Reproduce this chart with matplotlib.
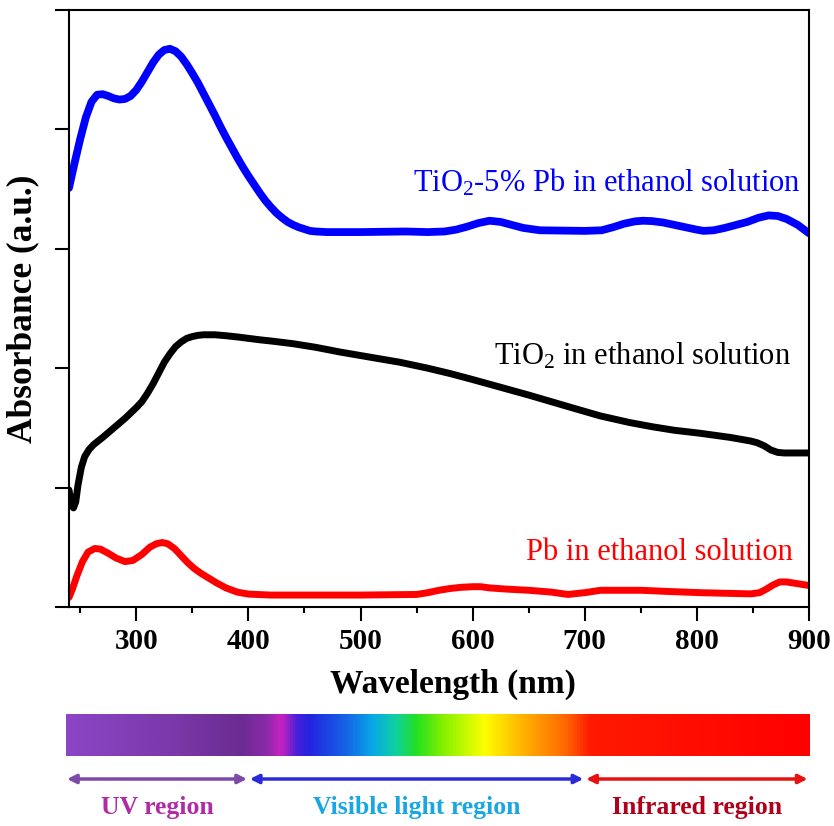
import numpy as np
import matplotlib
matplotlib.use('Agg')
from matplotlib import pyplot as plt
from matplotlib.colors import LinearSegmentedColormap
from matplotlib.ticker import MultipleLocator

plt.rcParams['font.family'] = ['Liberation Serif', 'DejaVu Serif']
plt.rcParams['mathtext.fontset'] = 'custom'
plt.rcParams['mathtext.rm'] = 'Liberation Serif'
plt.rcParams['mathtext.it'] = 'Liberation Serif:italic'
plt.rcParams['mathtext.bf'] = 'Liberation Serif:bold'

# TiO2-5% Pb in ethanol (blue)
wl_mix = [240, 245, 250, 255, 260, 265, 270, 275, 280, 285, 290, 295, 300, 305, 310,
          315, 320, 325, 330, 335, 340, 345, 350, 355, 360, 365, 370, 375, 380, 385,
          390, 395, 400, 405, 410, 415, 420, 425, 430, 435, 440, 445, 450, 455, 460,
          470, 500, 540, 560, 575, 585, 595, 605, 615, 625, 635, 645, 660, 700, 715,
          725, 735, 745, 752, 760, 770, 780, 790, 800, 806, 815, 825, 835, 845, 855,
          864, 872, 880, 890, 900]
abs_mix = [3.51, 3.72, 3.92, 4.10, 4.23, 4.29, 4.295, 4.28, 4.26, 4.25, 4.255, 4.28, 4.33,
           4.40, 4.48, 4.56, 4.625, 4.665, 4.675, 4.655, 4.61, 4.545, 4.47, 4.39, 4.30,
           4.21, 4.12, 4.025, 3.935, 3.85, 3.765, 3.685, 3.61, 3.54, 3.47, 3.405, 3.35,
           3.30, 3.26, 3.225, 3.20, 3.18, 3.165, 3.15, 3.145, 3.14, 3.14, 3.145, 3.14,
           3.145, 3.16, 3.185, 3.215, 3.235, 3.225, 3.20, 3.175, 3.155, 3.15, 3.155, 3.18,
           3.21, 3.23, 3.235, 3.232, 3.22, 3.20, 3.18, 3.16, 3.15, 3.155, 3.175, 3.20,
           3.225, 3.26, 3.28, 3.275, 3.25, 3.20, 3.13]

# TiO2 in ethanol (black)
wl_tio2 = [240, 242, 244, 246, 248, 251, 254, 258, 262, 270, 280, 290, 300, 305, 310,
           315, 320, 325, 330, 335, 340, 345, 350, 355, 360, 370, 380, 390, 400, 410,
           420, 440, 460, 482, 510, 535, 560, 580, 600, 625, 650, 670, 690, 714, 740,
           760, 780, 803, 830, 848, 854, 860, 866, 872, 878, 900]
abs_tio2 = [0.98, 0.86, 0.83, 0.88, 1.02, 1.17, 1.26, 1.32, 1.36, 1.42, 1.50, 1.58, 1.67,
            1.72, 1.79, 1.87, 1.96, 2.05, 2.12, 2.18, 2.22, 2.25, 2.265, 2.275, 2.28,
            2.28, 2.272, 2.262, 2.25, 2.238, 2.228, 2.205, 2.175, 2.135, 2.09, 2.05, 2.00,
            1.955, 1.905, 1.84, 1.775, 1.72, 1.665, 1.60, 1.545, 1.51, 1.48, 1.455, 1.42,
            1.39, 1.375, 1.35, 1.315, 1.295, 1.29, 1.29]

# Pb in ethanol (red)
wl_pb = [240, 243, 247, 252, 257, 263, 268, 275, 282, 290, 297, 305, 312, 318, 323, 328,
         334, 340, 346, 352, 358, 365, 372, 380, 390, 400, 420, 500, 550, 560, 570, 580,
         590, 600, 607, 615, 630, 650, 670, 685, 700, 714, 750, 775, 803, 848, 856, 862,
         868, 874, 880, 890, 900]
abs_pb = [0.08, 0.15, 0.26, 0.38, 0.46, 0.49, 0.485, 0.45, 0.41, 0.38, 0.39, 0.44, 0.50,
          0.53, 0.54, 0.53, 0.49, 0.43, 0.37, 0.32, 0.28, 0.24, 0.20, 0.16, 0.125, 0.108,
          0.10, 0.10, 0.105, 0.12, 0.14, 0.155, 0.165, 0.17, 0.17, 0.16, 0.15, 0.14, 0.125,
          0.105, 0.12, 0.14, 0.14, 0.13, 0.12, 0.11, 0.12, 0.15, 0.185, 0.21, 0.21, 0.195,
          0.18]

curve_labels = ['TiO$_2$-5% Pb in ethanol solution', 'TiO$_2$ in ethanol solution',
                'Pb in ethanol solution']
label_pos = [(893, 3.48), (884, 2.03), (886, 0.39)]

# spectrum regions (nm)
region_names = ['UV region', 'Visible light region', 'Infrared region']
region_edges = [(237, 400), (400, 700), (700, 900)]

# colour stops of the spectrum bar (nm, colour)
spec_wl = [237, 321, 392, 415, 428, 442, 453, 487, 510, 531, 549, 572, 610, 644, 682, 705, 900]
spec_col = ['#8b45c6', '#7d3aad', '#6b2c92', '#8a2aa8', '#c822c0', '#4a20d8', '#2424e0',
            '#1466e6', '#08a8e8', '#10d0a0', '#22e022', '#80f000', '#ffff00', '#ffb400',
            '#ff6a00', '#ff1a00', '#ff0000']

W, H = 834, 826
fig = plt.figure(figsize=(W / 100, H / 100), dpi=100)
ax = fig.add_axes([69 / W, (H - 607) / H, 740 / W, 597 / H])

style = dict(solid_joinstyle='round', solid_capstyle='round')
ax.plot(wl_mix, abs_mix, color='#0000ff', lw=5.6, **style)
ax.plot(wl_tio2, abs_tio2, color='black', lw=5.0, **style)
ax.plot(wl_pb, abs_pb, color='#ff0000', lw=5.0, **style)

for txt, (x, y), c in zip(curve_labels, label_pos, ['#0000ff', 'black', '#ff0000']):
    ax.text(x, y, txt, color=c, fontsize=22, ha='right', va='baseline')

ax.set_xlim(240, 900)
ax.set_ylim(0, 5)
ax.xaxis.set_major_locator(MultipleLocator(100))
ax.xaxis.set_minor_locator(MultipleLocator(50))
ax.yaxis.set_major_locator(MultipleLocator(1))
ax.set_yticklabels([])
ax.tick_params(axis='both', which='major', direction='out', length=10, width=1.5)
ax.tick_params(axis='x', which='minor', direction='out', length=4.5, width=1.5)
ax.tick_params(axis='x', labelsize=21, pad=5)
for lab in ax.get_xticklabels():
    lab.set_fontweight('bold')
for s in ax.spines.values():
    s.set_linewidth(1.5)
ax.set_xlabel('Wavelength (nm)', fontsize=24, fontweight='bold')
ax.xaxis.set_label_coords(0.519, -0.129)
ax.xaxis.label.set_va('center')
ax.set_ylabel('Absorbance (a.u.)', fontsize=25.5, fontweight='bold', labelpad=8)

# spectrum bar + regions
ax2 = fig.add_axes([69 / W, 0, 740 / W, 126 / H])
ax2.set_xlim(240, 900)
ax2.set_ylim(826, 700)
ax2.axis('off')

stops = [(w - spec_wl[0]) / (spec_wl[-1] - spec_wl[0]) for w in spec_wl]
cmap = LinearSegmentedColormap.from_list('spec', list(zip(stops, spec_col)))
grad = np.linspace(0, 1, 800)[None, :]
ax2.imshow(grad, cmap=cmap, aspect='auto', extent=[spec_wl[0], spec_wl[-1], 756, 714],
           clip_on=False, interpolation='bilinear')

arrow_cols = ['#7d4aa8', '#2a2ad8', '#e81010']
text_cols = ['#b02ca6', '#1aa6e0', '#b0001a']
for name, (a, b), ac, tc in zip(region_names, region_edges, arrow_cols, text_cols):
    ax2.annotate('', xy=(b, 779), xytext=(a, 779), annotation_clip=False,
                 arrowprops=dict(arrowstyle='<|-|>', color=ac, lw=2.5, mutation_scale=13,
                                 shrinkA=1, shrinkB=1))
    ax2.text((a + b) / 2, 808, name, color=tc, fontsize=18.5, fontweight='bold',
             ha='center', va='center', clip_on=False)

fig.savefig('out.png', dpi=100)
